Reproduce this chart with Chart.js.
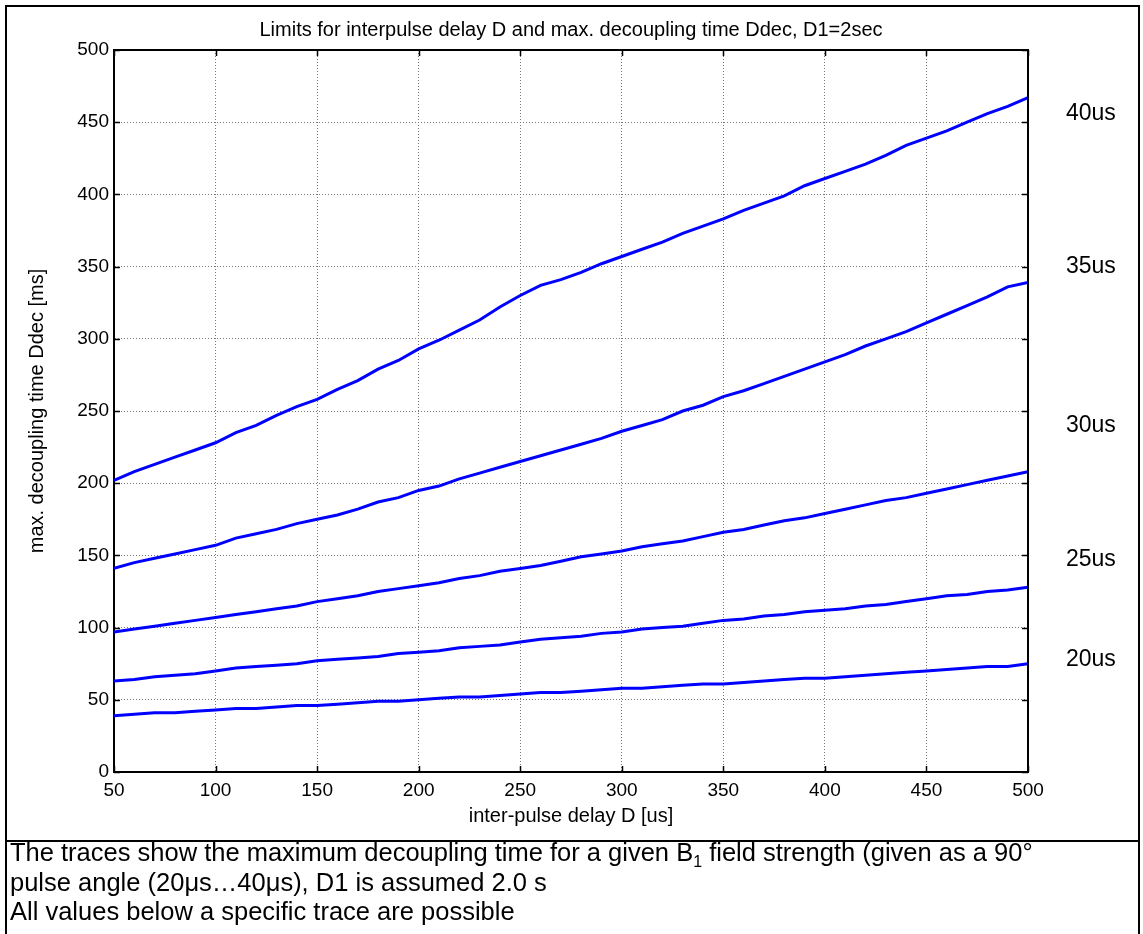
<!DOCTYPE html>
<html lang="en">
<head>
<meta charset="utf-8">
<title>Limits for interpulse delay D and max. decoupling time Ddec</title>
<script src="https://cdn.jsdelivr.net/npm/chart.js@4.4.0/dist/chart.umd.min.js"></script>
<style>
	body { margin: 0; background: #fff; font-family: Arial, "Liberation Sans", sans-serif; }
	#page { position: relative; width: 1143px; height: 934px; overflow: hidden; }
	#frame { position: absolute; left: 5px; top: 5px; width: 1135px; height: 960px; border: 2px solid #000; box-sizing: border-box; }
	#divider { position: absolute; left: 5px; top: 840px; width: 1135px; height: 2px; background: #000; }
	#wrap { position: absolute; left: 0; top: 0; width: 1143px; height: 841px; }
	#caption { position: absolute; left: 10px; top: 838px; font-size: 25.5px; line-height: 29.5px; color: #000; white-space: nowrap; }
	#caption sub { font-size: 16px; line-height: 0; }
</style>
</head>
<body>
<div id="page">
	<div id="frame"></div>
	<div id="wrap"><canvas id="chart"></canvas></div>
	<div id="divider"></div>
	<div id="caption">
		The traces show the maximum decoupling time for a given B<sub>1</sub> field strength (given as a 90°<br>
		pulse angle (20μs…40μs), D1 is assumed 2.0 s<br>
		All values below a specific trace are possible
	</div>
</div>
<script>
	// inter-pulse delay D [us]
	const delay = [50,60,70,80,90,100,110,120,130,140,150,160,170,180,190,200,210,220,230,240,250,260,270,280,290,300,310,320,330,340,350,360,370,380,390,400,410,420,430,440,450,460,470,480,490,500]

	// max. decoupling time Ddec [ms] per 90° pulse length
	const d20 = [39,40,41,41,42,43,44,44,45,46,46,47,48,49,49,50,51,52,52,53,54,55,55,56,57,58,58,59,60,61,61,62,63,64,65,65,66,67,68,69,70,71,72,73,73,75]
	const d25 = [63,64,66,67,68,70,72,73,74,75,77,78,79,80,82,83,84,86,87,88,90,92,93,94,96,97,99,100,101,103,105,106,108,109,111,112,113,115,116,118,120,122,123,125,126,128]
	const d30 = [97,99,101,103,105,107,109,111,113,115,118,120,122,125,127,129,131,134,136,139,141,143,146,149,151,153,156,158,160,163,166,168,171,174,176,179,182,185,188,190,193,196,199,202,205,208]
	const d35 = [141,145,148,151,154,157,162,165,168,172,175,178,182,187,190,195,198,203,207,211,215,219,223,227,231,236,240,244,250,254,260,264,269,274,279,284,289,295,300,305,311,317,323,329,336,339]
	const d40 = [202,208,213,218,223,228,235,240,247,253,258,265,271,279,285,293,299,306,313,322,330,337,341,346,352,357,362,367,373,378,383,389,394,399,406,411,416,421,427,434,439,444,450,456,461,467]

	const pulseLabels = ["20us", "25us", "30us", "35us", "40us"]
	const labelAt = [78, 147, 240, 350, 456]

	const xTicks = [50,100,150,200,250,300,350,400,450,500]
	const yTicks = [0,50,100,150,200,250,300,350,400,450,500]

	const FONT = "Arial, 'Liberation Sans', sans-serif"

	const frameParts = {
		id: "frameParts",
		afterDraw(chart) {
			const ctx = chart.ctx
			const a = chart.chartArea
			const xs = chart.scales.x
			const ys = chart.scales.y
			ctx.save()

			// box top and right
			ctx.strokeStyle = "#000"
			ctx.lineWidth = 2
			ctx.beginPath()
			ctx.moveTo(a.left, a.top)
			ctx.lineTo(a.right, a.top)
			ctx.lineTo(a.right, a.bottom)
			ctx.stroke()

			// inward ticks on all four sides
			ctx.lineWidth = 1.5
			ctx.beginPath()
			xTicks.forEach(v => {
				const px = Math.round(xs.getPixelForValue(v)) + 0.5
				ctx.moveTo(px, a.bottom); ctx.lineTo(px, a.bottom - 6)
				ctx.moveTo(px, a.top); ctx.lineTo(px, a.top + 6)
			})
			yTicks.forEach(v => {
				const py = Math.round(ys.getPixelForValue(v)) + 0.5
				ctx.moveTo(a.left, py); ctx.lineTo(a.left + 6, py)
				ctx.moveTo(a.right, py); ctx.lineTo(a.right - 6, py)
			})
			ctx.stroke()

			// title
			ctx.fillStyle = "#000"
			ctx.font = "20px " + FONT
			ctx.textAlign = "center"
			ctx.textBaseline = "middle"
			ctx.fillText("Limits for interpulse delay D and max. decoupling time Ddec, D1=2sec", (a.left + a.right) / 2, 30)

			// trace labels on the right
			ctx.font = "23px " + FONT
			ctx.textAlign = "left"
			pulseLabels.forEach((t, i) => {
				ctx.fillText(t, 1066, ys.getPixelForValue(labelAt[i]))
			})
			ctx.restore()
		}
	}

	const series = [d20, d25, d30, d35, d40]

	new Chart(document.getElementById("chart"), {
		type: "line",
		data: {
			datasets: series.map((s, i) => ({
				label: pulseLabels[i],
				data: delay.map((d, j) => ({ x: d, y: s[j] })),
				borderColor: "#0000ff",
				backgroundColor: "#0000ff",
				borderWidth: 3,
				pointRadius: 0,
				tension: 0,
				fill: false
			}))
		},
		options: {
			responsive: true,
			maintainAspectRatio: false,
			animation: false,
			layout: { padding: { top: 50, right: 115, left: 0, bottom: 0 } },
			plugins: {
				legend: { display: false },
				title: { display: false },
				tooltip: { enabled: false }
			},
			scales: {
				x: {
					type: "linear",
					min: 50,
					max: 500,
					afterBuildTicks: s => { s.ticks = xTicks.map(v => ({ value: v })) },
					afterFit: s => { s.height = 69 },
					ticks: { color: "#000", padding: 7, maxRotation: 0, autoSkip: false, font: { family: FONT, size: 19 } },
					grid: { color: "#777", lineWidth: 1, drawTicks: false },
					border: { display: true, color: "#000", width: 2, dash: [1, 2] },
					title: { display: true, text: "inter-pulse delay D [us]", color: "#000", font: { family: FONT, size: 20 }, padding: { top: 0, bottom: 13 } }
				},
				y: {
					type: "linear",
					min: 0,
					max: 500,
					afterBuildTicks: s => { s.ticks = yTicks.map(v => ({ value: v })) },
					afterFit: s => { s.width = 114 },
					ticks: { color: "#000", padding: 5, autoSkip: false, font: { family: FONT, size: 19 } },
					grid: { color: "#777", lineWidth: 1, drawTicks: false },
					border: { display: true, color: "#000", width: 2, dash: [1, 2] },
					title: { display: true, text: "max. decoupling time Ddec [ms]", color: "#000", font: { family: FONT, size: 20 }, padding: { top: 25, bottom: 0 } }
				}
			}
		},
		plugins: [frameParts]
	})
</script>
</body>
</html>
